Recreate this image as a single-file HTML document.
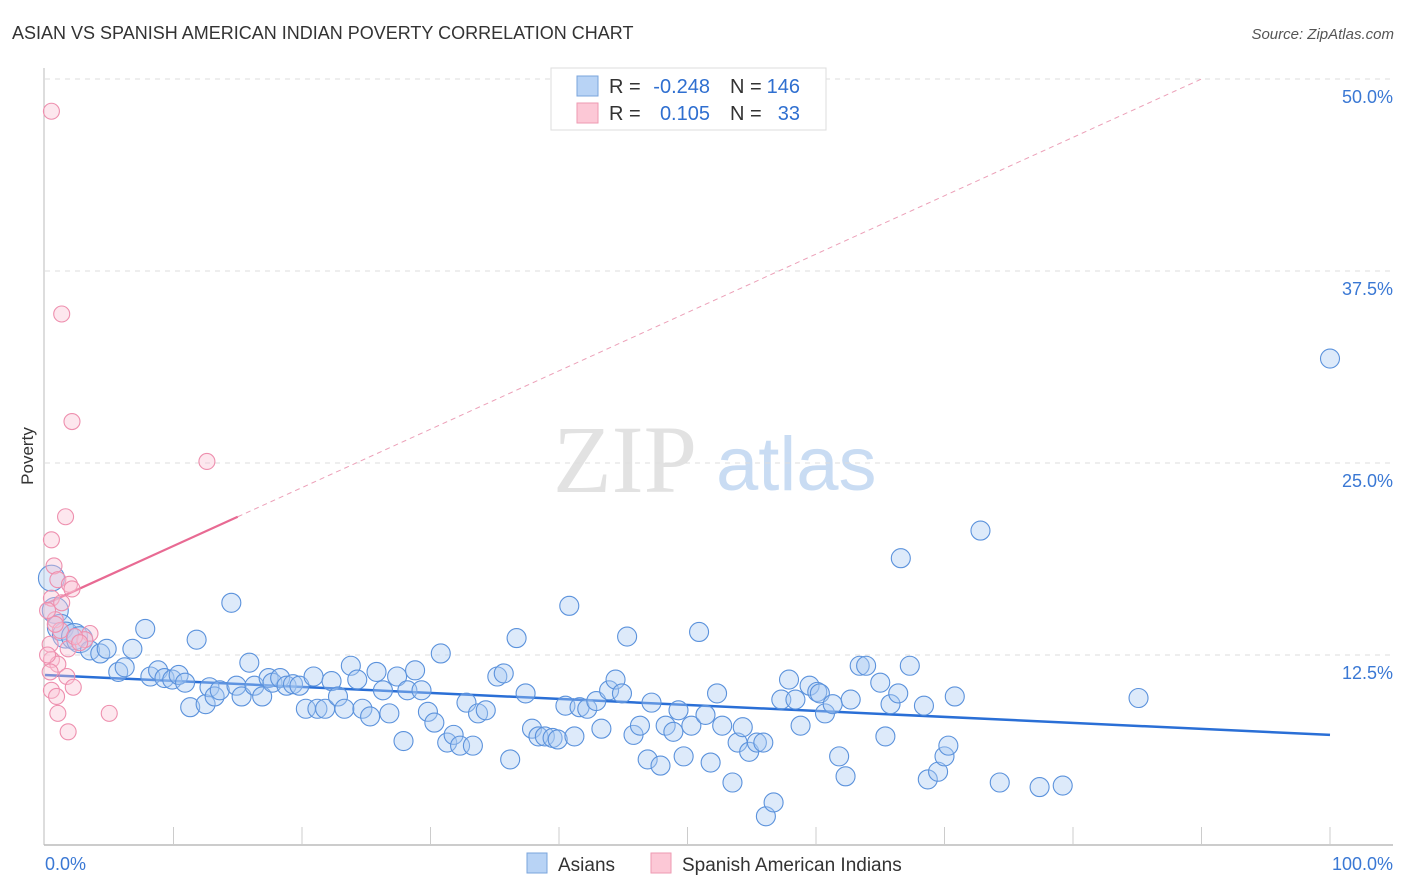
<!DOCTYPE html>
<html><head><meta charset="utf-8"><style>
body{margin:0;background:#fff;font-family:"Liberation Sans",sans-serif;}
svg{display:block}
</style></head><body>
<svg id="chart" width="1406" height="892" xmlns="http://www.w3.org/2000/svg" font-family="Liberation Sans, sans-serif">
<text x="12" y="39" font-size="18" fill="#333">ASIAN VS SPANISH AMERICAN INDIAN POVERTY CORRELATION CHART</text>
<text x="1394" y="39" font-size="15" fill="#555" font-style="italic" text-anchor="end">Source: ZipAtlas.com</text>
<text transform="translate(33,456) rotate(-90)" font-size="17" fill="#333" text-anchor="middle">Poverty</text>
<g>
<text x="553" y="492" font-size="96" font-family="Liberation Serif, serif" fill="#e2e2e2">ZIP</text>
<text x="716" y="490" font-size="76" fill="#c9dcf3">atlas</text>
</g>
<g id="grid"></g><g id="axes"></g><g id="trend"></g><g id="pts"></g>
<g>
<rect x="551" y="68" width="275" height="62" fill="#fff" stroke="#ddd"/>
<rect x="577" y="76" width="21" height="20" fill="#b8d3f5" stroke="#7aa5dc"/>
<rect x="577" y="103" width="21" height="20" fill="#fcc8d6" stroke="#ee9ab2"/>
<text y="93" font-size="20" fill="#333"><tspan x="609">R =</tspan><tspan x="710" text-anchor="end" fill="#2f6fd0">-0.248</tspan><tspan x="730">N =</tspan><tspan x="800" text-anchor="end" fill="#2f6fd0">146</tspan></text>
<text y="120" font-size="20" fill="#333"><tspan x="609">R =</tspan><tspan x="710" text-anchor="end" fill="#2f6fd0">0.105</tspan><tspan x="730">N =</tspan><tspan x="800" text-anchor="end" fill="#2f6fd0">33</tspan></text>
</g>
<g>
<rect x="527" y="853" width="20" height="20" fill="#b8d3f5" stroke="#7aa5dc"/>
<text x="558" y="871" font-size="19" fill="#333">Asians</text>
<rect x="651" y="853" width="20" height="20" fill="#fcc8d6" stroke="#ee9ab2"/>
<text x="682" y="871" font-size="19" fill="#333">Spanish American Indians</text>
</g>
</svg>
<script>
const yTicks=[12.5,25,37.5,50];
const yTickLabels=["12.5%","25.0%","37.5%","50.0%"];
const xTickLabels=["0.0%","100.0%"];
const asianX=[0.5,0.8,1.2,1.6,2.3,2.7,3.5,4.3,4.8,5.7,6.2,6.8,7.8,8.2,8.8,9.3,9.9,10.4,10.9,11.3,11.8,12.5,12.8,13.2,13.6,14.5,14.9,15.3,15.9,16.3,16.9,17.4,17.7,18.3,18.8,19.3,19.8,20.3,20.9,21.2,21.8,22.3,22.8,23.3,23.8,24.3,24.7,25.3,25.8,26.3,26.8,27.4,27.9,28.2,28.8,29.3,29.8,30.3,30.8,31.3,31.8,32.3,32.8,33.3,33.7,34.3,35.2,35.7,36.2,36.7,37.4,37.9,38.4,38.9,39.5,39.9,40.5,40.8,41.2,41.6,42.2,42.9,43.3,43.9,44.4,44.9,45.3,45.8,46.3,46.9,47.2,47.9,48.3,48.9,49.3,49.7,50.3,50.9,51.4,51.8,52.3,52.7,53.5,53.9,54.3,54.8,55.4,55.9,56.1,56.7,57.3,57.9,58.4,58.8,59.5,60.1,60.3,60.7,61.3,61.8,62.3,62.7,63.4,63.9,65.0,65.4,65.8,66.4,66.6,67.3,68.4,68.7,69.5,70.0,70.3,70.8,72.8,74.3,77.4,79.2,85.1,100];
const asianY=[17.5,15.4,14.3,13.8,13.7,13.5,12.8,12.6,12.9,11.4,11.7,12.9,14.2,11.1,11.5,11.0,10.9,11.2,10.7,9.1,13.5,9.3,10.4,9.8,10.2,15.9,10.5,9.8,12.0,10.5,9.8,11.0,10.7,11.0,10.5,10.6,10.5,9.0,11.1,9.0,9.0,10.8,9.8,9.0,11.8,10.9,9.0,8.5,11.4,10.2,8.7,11.1,6.9,10.2,11.5,10.2,8.8,8.1,12.6,6.8,7.3,6.6,9.4,6.6,8.7,8.9,11.1,11.3,5.7,13.6,10.0,7.7,7.2,7.2,7.1,7.0,9.2,15.7,7.2,9.1,9.0,9.5,7.7,10.2,10.9,10.0,13.7,7.3,7.9,5.7,9.4,5.3,7.9,7.5,8.9,5.9,7.9,14.0,8.6,5.5,10.0,7.9,4.2,6.8,7.8,6.2,6.8,6.8,2.0,2.9,9.6,10.9,9.6,7.9,10.5,10.1,10.0,8.7,9.3,5.9,4.6,9.6,11.8,11.8,10.7,7.2,9.3,10.0,18.8,11.8,9.2,4.4,4.9,5.9,6.6,9.8,20.6,4.2,3.9,4.0,9.7,31.8];
const pinkX=[0.5,1.3,2.1,12.6,1.6,0.5,0.7,1.0,1.9,2.1,0.5,0.8,1.2,3.5,3.1,1.8,0.4,0.5,1.0,0.4,1.7,0.5,2.2,0.9,1.0,5.0,1.8,0.2,1.3,2.3,0.8,2.7,0.2];
const pinkY=[47.9,34.7,27.7,25.1,21.5,20.0,18.3,17.4,17.1,16.8,16.2,14.8,14.1,13.9,13.5,12.9,13.2,12.2,11.9,11.4,11.1,10.2,10.4,9.8,8.7,8.7,7.5,12.5,15.9,13.7,14.5,13.3,15.4];
const asianTrend=[11.2,7.3];   // y at x=0 and x=100
const pinkTrend=[15.8,0.38];  // intercept, slope
const pinkSolidEnd=15;

const NS="http://www.w3.org/2000/svg";
const X=v=>45+v*12.85, Y=v=>847-v*15.36;
function mk(tag,attrs,parent){const e=document.createElementNS(NS,tag);for(const k in attrs)e.setAttribute(k,attrs[k]);document.getElementById(parent).appendChild(e);return e;}
yTicks.forEach((t,i)=>{
  const l=mk('line',{x1:45,x2:1393,y1:Y(t),y2:Y(t),stroke:'#ddd','stroke-dasharray':'5,5'},'grid');
  
  
  const tx=mk('text',{x:1393,y:Y(t)+24,'font-size':18,fill:'#3a78d4','text-anchor':'end'},'grid');
  tx.textContent=yTickLabels[i];
  
  
});
mk('line',{x1:44,x2:44,y1:68,y2:845,stroke:'#bbb'},'axes');
mk('line',{x1:44,x2:1393,y1:845,y2:845,stroke:'#bbb','stroke-width':1.5},'axes');
for(let i=1;i<=10;i++){mk('line',{x1:X(i*10),x2:X(i*10),y1:827,y2:845,stroke:'#ccc'},'axes');}
const x0=mk('text',{x:45,y:870,'font-size':18,fill:'#3a78d4'},'axes');x0.textContent=xTickLabels[0];


const x1=mk('text',{x:1393,y:870,'font-size':18,fill:'#3a78d4','text-anchor':'end'},'axes');x1.textContent=xTickLabels[1];



asianX.forEach((x,i)=>{
  const c=mk('circle',{cx:X(x),cy:Y(asianY[i]),r:i<6?13:9.5,fill:'rgba(170,202,242,0.4)',stroke:'#5b92dc','stroke-width':1.1},'pts');
  
  
});
pinkX.forEach((x,i)=>{
  const c=mk('circle',{cx:X(x),cy:Y(pinkY[i]),r:8,fill:'rgba(250,195,212,0.4)',stroke:'#ee8fae','stroke-width':1.1},'pts');
  
  
});
const bt=mk('line',{x1:X(0),y1:Y(asianTrend[0]),x2:X(100),y2:Y(asianTrend[1]),stroke:'#2a6fd6','stroke-width':2.5},'trend');


const pEnd=(50-pinkTrend[0])/pinkTrend[1];
const ps=mk('line',{x1:X(0),y1:Y(pinkTrend[0]),x2:X(pinkSolidEnd),y2:Y(pinkTrend[0]+pinkTrend[1]*pinkSolidEnd),stroke:'#e86a93','stroke-width':2.2},'trend');


const pd=mk('line',{x1:X(pinkSolidEnd),y1:Y(pinkTrend[0]+pinkTrend[1]*pinkSolidEnd),x2:X(pEnd),y2:Y(50),stroke:'#eca0b8','stroke-width':1,'stroke-dasharray':'5,4'},'trend');


</script>
</body></html>
